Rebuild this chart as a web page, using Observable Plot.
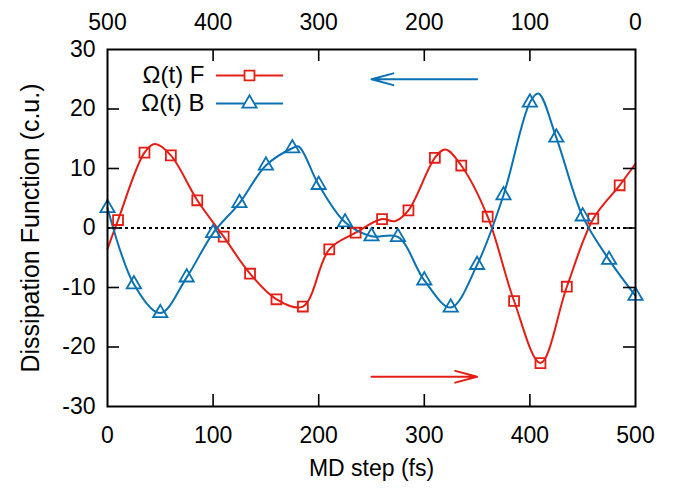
<!DOCTYPE html>
<html><head><meta charset="utf-8">
<script src="https://cdn.jsdelivr.net/npm/d3@7"></script>
<script src="https://cdn.jsdelivr.net/npm/@observablehq/plot@0.6"></script>
<style>body{margin:0;background:#fff}</style>
</head><body><div id="chart"></div>
<script>
// ---- data ----
const stepsF = [10,35,60,85,110,135,160,185,210,235,260,285,310,335,360,385,410,435,460,485];
const valuesF = [1.34,12.66,12.2,4.66,-1.46,-7.68,-11.98,-13.2,-3.58,-0.79,1.5,2.97,11.8,10.5,1.9,-12.27,-22.7,-9.87,1.56,7.18];
const stepsB = [0,25,50,75,100,125,150,175,200,225,250,275,300,325,350,375,400,425,450,475,500];
const valuesB = [3.35,-9.45,-14.3,-8.3,-0.85,4.2,10.5,13.4,7.25,0.95,-1.4,-1.5,-8.8,-13.35,-6.2,5.5,21.1,15.2,1.95,-5.35,-11.4];
// additional points of the curves (between markers)
const curveStepsF = [0,45,272,320,500];
const curveValuesF = [-3.5,14.1,1.15,13.2,10.8];
const curveStepsB = [181,408];
const curveValuesB = [13.7,22.6];
const seriesNames = ["\u03a9(t) F","\u03a9(t) B"];
const xTicks = [0,100,200,300,400,500];
const topTickLabels = ["500","400","300","200","100","0"];
const yTicks = [-30,-20,-10,0,10,20,30];
const arrowFrom = [350,250];
const arrowTo = [250,350];
const arrowLevel = [25,-25];

// ---- styles / layout ----
const RED = "#e41e14", BLUE = "#0a72b4";
const W = 693, H = 494, ML = 107, MR = 58, MT = 49, MB = 88;
const pxX = (W - ML - MR) / 500, pxY = (H - MT - MB) / 60;
const px2x = p => (p - ML) / pxX, px2y = p => 30 - (p - MT) / pxY;
const TICK = 12;

const ptsF = stepsF.map((s,i)=>({s, v: valuesF[i]}));
const ptsB = stepsB.map((s,i)=>({s, v: valuesB[i]}));
const lineF = ptsF.concat(curveStepsF.map((s,i)=>({s, v: curveValuesF[i]}))).sort((a,b)=>a.s-b.s);
const lineB = ptsB.concat(curveStepsB.map((s,i)=>({s, v: curveValuesB[i]}))).sort((a,b)=>a.s-b.s);
const arrows = arrowFrom.map((f,i)=>({f, t: arrowTo[i], y: arrowLevel[i]}));
const innerX = xTicks.slice(1,-1), innerY = yTicks.slice(1,-1);

// legend layout (pixel positions converted to data coordinates)
const legend = seriesNames.map((name,i)=>({
  name, tx: px2x(204), lx1: px2x(216), lx2: px2x(283), mx: px2x(249), y: px2y(75 + 28*i)
}));

const font = "'Liberation Sans', Arial, Helvetica, sans-serif";
const chart = Plot.plot({
  width: W, height: H, marginLeft: ML, marginRight: MR, marginTop: MT, marginBottom: MB,
  style: {fontFamily: font, fontSize: "23px", background: "white", color: "black"},
  x: {domain: [0,500]},
  y: {domain: [-30,30]},
  marks: [
    Plot.ruleY([0], {stroke: "black", strokeWidth: 1.8, strokeDasharray: "3,3"}),
    Plot.line(lineF, {x: "s", y: "v", stroke: RED, strokeWidth: 2, curve: "catmull-rom"}),
    Plot.line(lineB, {x: "s", y: "v", stroke: BLUE, strokeWidth: 2, curve: "catmull-rom"}),
    Plot.dot(ptsF, {x: "s", y: "v", symbol: "square", r: 5.6, stroke: RED, strokeWidth: 1.8, fill: "none"}),
    Plot.dot(ptsB, {x: "s", y: "v", symbol: "triangle", r: 5.3, stroke: BLUE, strokeWidth: 1.8, fill: "none"}),
    Plot.arrow([arrows[0]], {x1: "f", x2: "t", y1: "y", y2: "y", stroke: BLUE, strokeWidth: 2, headLength: 17, headAngle: 30, bend: 0}),
    Plot.arrow([arrows[1]], {x1: "f", x2: "t", y1: "y", y2: "y", stroke: RED, strokeWidth: 2, headLength: 17, headAngle: 30, bend: 0}),
    // legend
    Plot.text(legend, {x: "tx", y: "y", text: "name", textAnchor: "end", lineAnchor: "middle", fontSize: 24, fill: "black"}),
    Plot.ruleY([legend[0]], {x1: "lx1", x2: "lx2", y: "y", stroke: RED, strokeWidth: 2}),
    Plot.ruleY([legend[1]], {x1: "lx1", x2: "lx2", y: "y", stroke: BLUE, strokeWidth: 2}),
    Plot.dot([legend[0]], {x: "mx", y: "y", symbol: "square", r: 5.6, stroke: RED, strokeWidth: 1.8, fill: "white"}),
    Plot.dot([legend[1]], {x: "mx", y: "y", symbol: "triangle", r: 5.3, stroke: BLUE, strokeWidth: 1.8, fill: "white"}),
    // inward ticks
    Plot.ruleX(innerX, {x: d=>d, y1: -30, y2: -30 + TICK/pxY, stroke: "black", strokeWidth: 1.6}),
    Plot.ruleX(innerX, {x: d=>d, y1: 30, y2: 30 - TICK/pxY, stroke: "black", strokeWidth: 1.6}),
    Plot.ruleY(innerY, {y: d=>d, x1: 0, x2: TICK/pxX, stroke: "black", strokeWidth: 1.6}),
    Plot.ruleY(innerY, {y: d=>d, x1: 500, x2: 500 - TICK/pxX, stroke: "black", strokeWidth: 1.6}),
    Plot.frame({stroke: "black", strokeWidth: 2}),
    Plot.axisX({anchor: "bottom", ticks: xTicks, tickFormat: d => String(d), tickSize: 0, tickPadding: 20, fontSize: 23, label: null}),
    Plot.axisX({anchor: "top", ticks: xTicks, tickFormat: d => topTickLabels[xTicks.indexOf(d)], tickSize: 0, tickPadding: 20, fontSize: 23, label: null}),
    Plot.axisY({anchor: "left", ticks: yTicks, tickFormat: d => String(d), tickSize: 0, tickPadding: 12, fontSize: 23, label: null}),
    Plot.text(["MD step (fs)"], {frameAnchor: "bottom", dy: 62, lineAnchor: "middle", fontSize: 23, fill: "black"}),
    Plot.text(["Dissipation Function (c.u.)"], {frameAnchor: "left", dx: -77, rotate: -90, textAnchor: "middle", lineAnchor: "middle", fontSize: 25, fill: "black"})
  ]
});
document.getElementById("chart").appendChild(chart);
</script>
</body></html>
